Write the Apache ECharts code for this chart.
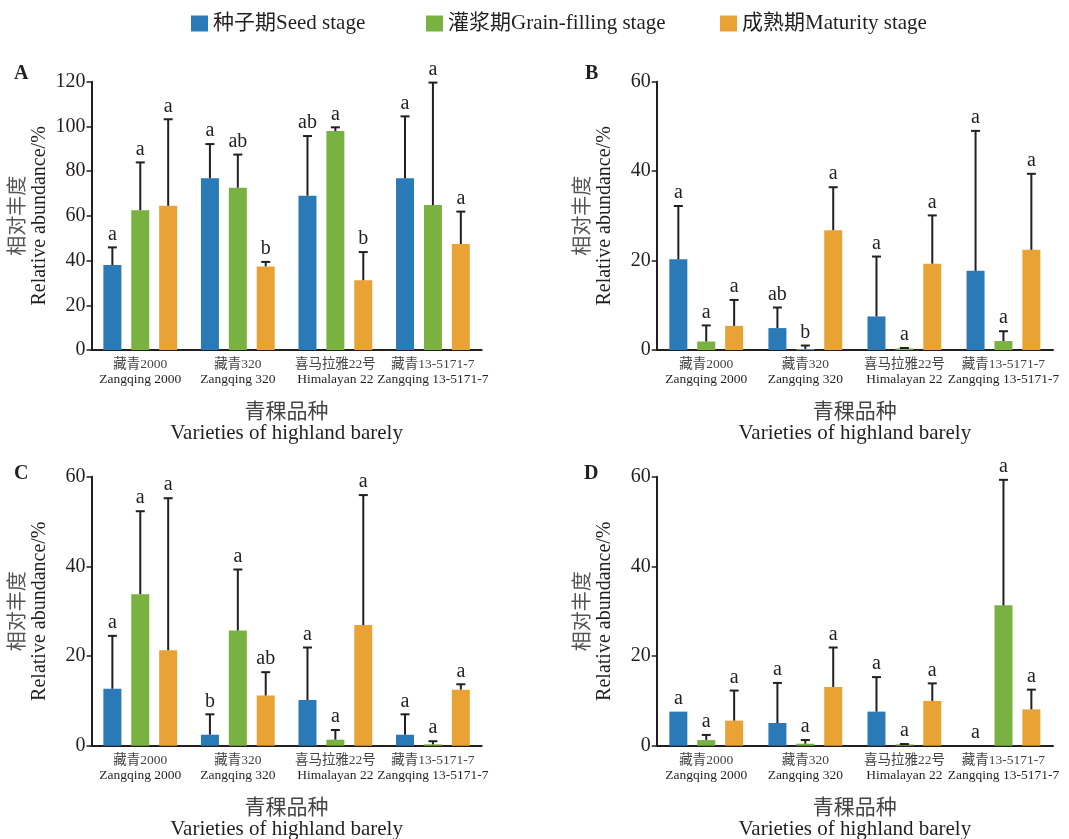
<!DOCTYPE html>
<html>
<head>
<meta charset="utf-8">
<script src="https://cdn.jsdelivr.net/npm/echarts@6/dist/echarts.min.js"></script>
<style>
  html, body { margin: 0; padding: 0; background: #fff; }
  #chart { width: 1069px; height: 839px; }
</style>
</head>
<body>
<div id="chart"></div>
<script>
// 品种 / 时期
var varieties = [
  ['藏青2000', 'Zangqing 2000'],
  ['藏青320', 'Zangqing 320'],
  ['喜马拉雅22号', 'Himalayan 22'],
  ['藏青13-5171-7', 'Zangqing 13-5171-7']
]
var stages = ['种子期Seed stage', '灌浆期Grain-filling stage', '成熟期Maturity stage']
var stageColors = ['#2a7ab7', '#7ab241', '#e8a334']

// 每个面板: 均值 (按时期), 误差线顶端, 显著性字母
var meanA = [[38.0, 76.8, 69.0, 76.8], [62.5, 72.6, 97.9, 64.8], [64.5, 37.4, 31.2, 47.4]]
var upperA = [[45.9, 92.1, 95.7, 104.5], [83.9, 87.4, 99.6, 119.6], [103.2, 39.4, 43.8, 61.9]]
var lettersA = [['a', 'a', 'ab', 'a'], ['a', 'ab', 'a', 'a'], ['a', 'b', 'b', 'a']]

var meanB = [[20.3, 4.9, 7.5, 17.7], [1.9, 0.2, 0.35, 2.0], [5.4, 26.8, 19.3, 22.4]]
var upperB = [[32.2, 9.5, 20.9, 49.0], [5.5, 1.0, 0.45, 4.2], [11.2, 36.4, 30.1, 39.4]]
var lettersB = [['a', 'ab', 'a', 'a'], ['a', 'b', 'a', 'a'], ['a', 'a', 'a', 'a']]

var meanC = [[12.7, 2.45, 10.2, 2.45], [33.8, 25.7, 1.34, 0.3], [21.3, 11.2, 26.9, 12.5]]
var upperC = [[24.5, 7.0, 21.9, 7.0], [52.3, 39.3, 3.5, 1.0], [55.2, 16.4, 55.9, 13.7]]
var lettersC = [['a', 'b', 'a', 'a'], ['a', 'a', 'a', 'a'], ['a', 'ab', 'a', 'a']]

var meanD = [[7.6, 5.06, 7.6, 0], [1.26, 0.45, 0.3, 31.3], [5.6, 13.1, 10.0, 8.1]]
var upperD = [[7.6, 14.0, 15.3, 0], [2.4, 1.26, 0.37, 59.3], [12.3, 21.9, 13.9, 12.5]]
var lettersD = [['a', 'a', 'a', 'a'], ['a', 'a', 'a', 'a'], ['a', 'a', 'a', 'a']]

var yMax = [120, 60, 60, 60]
var panelNames = ['A', 'B', 'C', 'D']

var INK = '#231f20'
var SERIF = "'Liberation Serif', 'Noto Sans CJK SC', serif"
var BAR_W = 18
var BAR_GAP = 0.55

var panels = [
  { mean: meanA, upper: upperA, letters: lettersA },
  { mean: meanB, upper: upperB, letters: lettersB },
  { mean: meanC, upper: upperC, letters: lettersC },
  { mean: meanD, upper: upperD, letters: lettersD }
]

var grids = [
  { left: 91.5, top: 81.7, width: 390.2, height: 268.3 },
  { left: 656.7, top: 81.7, width: 396.3, height: 268.3 },
  { left: 91.5, top: 476.7, width: 390.2, height: 269 },
  { left: 656.7, top: 476.7, width: 396.3, height: 269 }
]
var letterPos = [[14, 64], [585, 64], [14, 464], [584, 464]]

function errorSeries(gi, p) {
  var rows = []
  p.mean.forEach(function (arr, s) {
    arr.forEach(function (m, c) { rows.push([c, s, m, p.upper[s][c]]) })
  })
  return {
    type: 'custom',
    xAxisIndex: gi,
    yAxisIndex: gi,
    z: 5,
    silent: true,
    data: rows,
    renderItem: function (params, api) {
      var c = api.value(0), s = api.value(1), m = api.value(2), u = api.value(3)
      var base = api.coord([c, m])
      var top = api.coord([c, u])
      var x = base[0] + (s - 1) * BAR_W * (1 + BAR_GAP)
      var lineStyle = { stroke: INK, lineWidth: 2 }
      var children = []
      if (u > m) {
        children.push({ type: 'line', shape: { x1: x, y1: base[1], x2: x, y2: top[1] }, style: lineStyle })
        children.push({ type: 'line', shape: { x1: x - 4.5, y1: top[1], x2: x + 4.5, y2: top[1] }, style: lineStyle })
      }
      children.push({
        type: 'text',
        style: {
          text: p.letters[s][c],
          x: x,
          y: Math.min(top[1], base[1]) - 3,
          align: 'center',
          verticalAlign: 'bottom',
          textAlign: 'center',
          textVerticalAlign: 'bottom',
          fontSize: 20,
          fontFamily: SERIF,
          fill: INK
        }
      })
      return { type: 'group', children: children }
    }
  }
}

var chart = echarts.init(document.getElementById('chart'))

var xAxes = [], yAxes = [], series = [], graphics = []
grids.forEach(function (g, gi) {
  xAxes.push({
    type: 'category',
    gridIndex: gi,
    data: varieties.map(function (v) { return v[0] }),
    axisLine: { show: true, lineStyle: { color: INK, width: 2 } },
    axisTick: { show: false },
    axisLabel: {
      margin: 7,
      interval: 0,
      formatter: function (val, idx) {
        return '{cn|' + varieties[idx][0] + '}\n{en|' + varieties[idx][1] + '}'
      },
      rich: {
        cn: { fontSize: 13.5, fontFamily: SERIF, color: '#444', lineHeight: 15 },
        en: { fontSize: 13.5, fontFamily: SERIF, color: INK, lineHeight: 15 }
      }
    },
    name: '{cn|青稞品种}\n{en|Varieties of highland barely}',
    nameLocation: 'middle',
    nameGap: 52,
    nameTextStyle: {
      rich: {
        cn: { fontSize: 21, fontFamily: SERIF, color: '#444', lineHeight: 21 },
        en: { fontSize: 21, fontFamily: SERIF, color: INK, lineHeight: 21 }
      }
    }
  })
  yAxes.push({
    type: 'value',
    gridIndex: gi,
    min: 0,
    max: yMax[gi],
    interval: 20,
    splitLine: { show: false },
    axisLine: { show: true, lineStyle: { color: INK, width: 2 } },
    axisTick: { show: true, length: 5, lineStyle: { color: INK, width: 1.5 } },
    axisLabel: { fontSize: 20, fontFamily: SERIF, color: INK, margin: 6 },
    name: '{cn|相对丰度}\n{en|Relative abundance/%}',
    nameLocation: 'middle',
    nameGap: 41,
    nameRotate: 90,
    nameTextStyle: {
      rich: {
        cn: { fontSize: 20, fontFamily: SERIF, color: '#555', lineHeight: 21 },
        en: { fontSize: 20, fontFamily: SERIF, color: INK, lineHeight: 21 }
      }
    }
  })
  stages.forEach(function (st, s) {
    series.push({
      type: 'bar',
      name: st,
      xAxisIndex: gi,
      yAxisIndex: gi,
      barWidth: BAR_W,
      barGap: (BAR_GAP * 100) + '%',
      itemStyle: { color: stageColors[s] },
      data: panels[gi].mean[s]
    })
  })
  series.push(errorSeries(gi, panels[gi]))
  graphics.push({
    type: 'text',
    left: letterPos[gi][0],
    top: letterPos[gi][1],
    style: { text: panelNames[gi], fontSize: 20, fontWeight: 'bold', fontFamily: SERIF, fill: INK }
  })
})

var legendLeft = [186, 421, 715]
var legends = stages.map(function (st, s) {
  return {
    data: [{ name: st, icon: 'rect' }],
    left: legendLeft[s],
    top: 8,
    itemWidth: 17,
    itemHeight: 16,
    itemGap: 5,
    selectedMode: false,
    textStyle: { fontSize: 21, fontFamily: SERIF, color: INK, padding: [0, 0, 0, 0] }
  }
})

var option = {
  backgroundColor: '#fff',
  animation: false,
  legend: legends,
  grid: grids.map(function (g) {
    return Object.assign({ containLabel: false, outerBoundsMode: 'none' }, g)
  }),
  xAxis: xAxes,
  yAxis: yAxes,
  series: series,
  graphic: graphics
}
chart.setOption(option, true)
</script>
</body>
</html>
